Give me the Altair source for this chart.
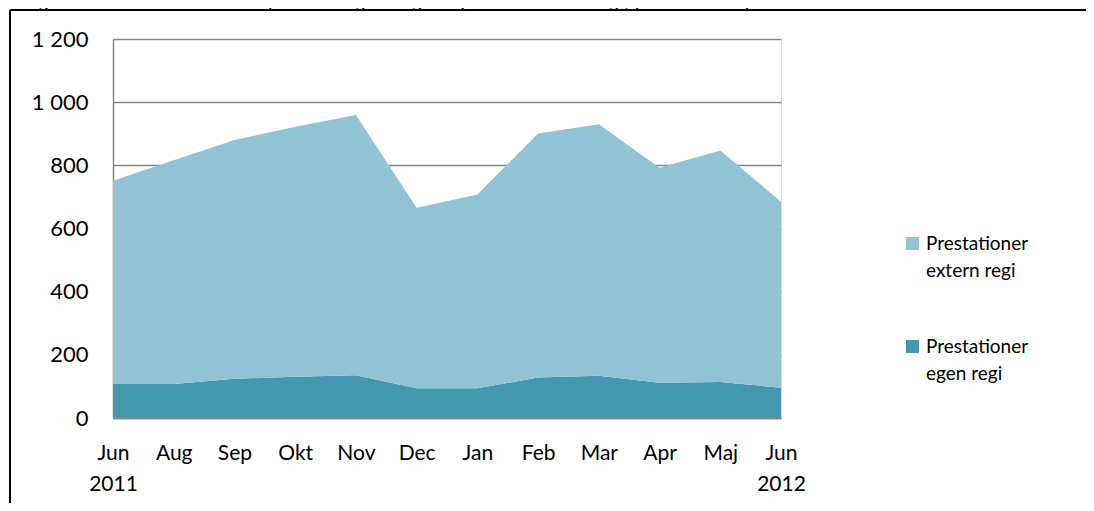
import altair as alt
import pandas as pd

months = ["Jun 2011", "Aug", "Sep", "Okt", "Nov", "Dec", "Jan", "Feb", "Mar", "Apr", "Maj", "Jun 2012"]
egen_regi = [108, 108, 124, 131, 135, 94, 94, 128, 134, 112, 114, 96]
extern_regi = [643, 708, 756, 791, 824, 572, 614, 773, 796, 680, 733, 589]
series = ["Prestationer|extern regi", "Prestationer|egen regi"]
colors = ["#92C3D4", "#4398B0"]
y_ticks = [0, 200, 400, 600, 800, 1000, 1200]
title_text = "Diagram: Prestationer/ helårsplatser i egen regi respektive extern regi, juni 2011 till juni 2012"

rows = []
for m, e, x in zip(months, egen_regi, extern_regi):
    rows.append({"month": m, "serie": series[1], "value": e, "ord": 0})
    rows.append({"month": m, "serie": series[0], "value": x, "ord": 1})
df = pd.DataFrame(rows)

FONT = "Lato"

area = alt.Chart(df).mark_area(interpolate="linear").encode(
    x=alt.X("month:N", sort=months, title=None,
            scale=alt.Scale(padding=0),
            axis=alt.Axis(labelExpr="split(datum.label, ' ')", labelAngle=0, ticks=False,
                          domainColor="#868686", domainWidth=1.5, labelPadding=24,
                          labelBaseline="top", labelLineHeight=31, labelFontSize=21,
                          labelColor="#000000", labelFont=FONT, grid=False)),
    y=alt.Y("value:Q", stack="zero", title=None,
            scale=alt.Scale(domain=[0, 1200], nice=False),
            axis=alt.Axis(values=y_ticks, labelExpr="replace(format(datum.value, ','), ',', ' ')",
                          ticks=False, domainColor="#868686", domainWidth=1.5, labelPadding=25,
                          labelFontSize=22, labelColor="#000000", labelFont=FONT,
                          grid=True, gridColor="#868686", gridWidth=1.5)),
    color=alt.Color("serie:N", scale=alt.Scale(domain=series, range=colors),
                    legend=alt.Legend(title=None, orient="none", legendX=790, legendY=195,
                                      labelExpr="split(datum.label, '|')",
                                      symbolType="square", symbolSize=169, symbolStrokeWidth=0,
                                      labelFontSize=19, labelFont=FONT, labelColor="#000000",
                                      rowPadding=56, labelOffset=4, labelLimit=300)),
    order=alt.Order("ord:Q"),
)

one = alt.Data(values=[{"a": 1}])
frame_v = alt.Chart(one).mark_rule(color="#000000", strokeWidth=2).encode(
    x=alt.value(-103), y=alt.value(-29), y2=alt.value(500))
frame_h = alt.Chart(one).mark_rule(color="#000000", strokeWidth=2).encode(
    x=alt.value(-103), x2=alt.value(1000), y=alt.value(-29))
title = alt.Chart(one).mark_text(align="left", baseline="alphabetic", font="Liberation Sans",
                                 fontSize=20, color="#000000").encode(
    x=alt.value(-105), y=alt.value(-32), text=alt.value(title_text))

chart = alt.layer(area, frame_v, frame_h, title).properties(
    width=668, height=379,
    autosize=alt.AutoSizeParams(type="none"),
    padding={"left": 105, "top": 31, "right": 305, "bottom": 85},
).configure_view(stroke=None).configure(
    background="#ffffff",
    style={"guide-label": {"lineHeight": 27}},
)

chart.save("out.html", embed_options={"renderer": "svg", "actions": False})
